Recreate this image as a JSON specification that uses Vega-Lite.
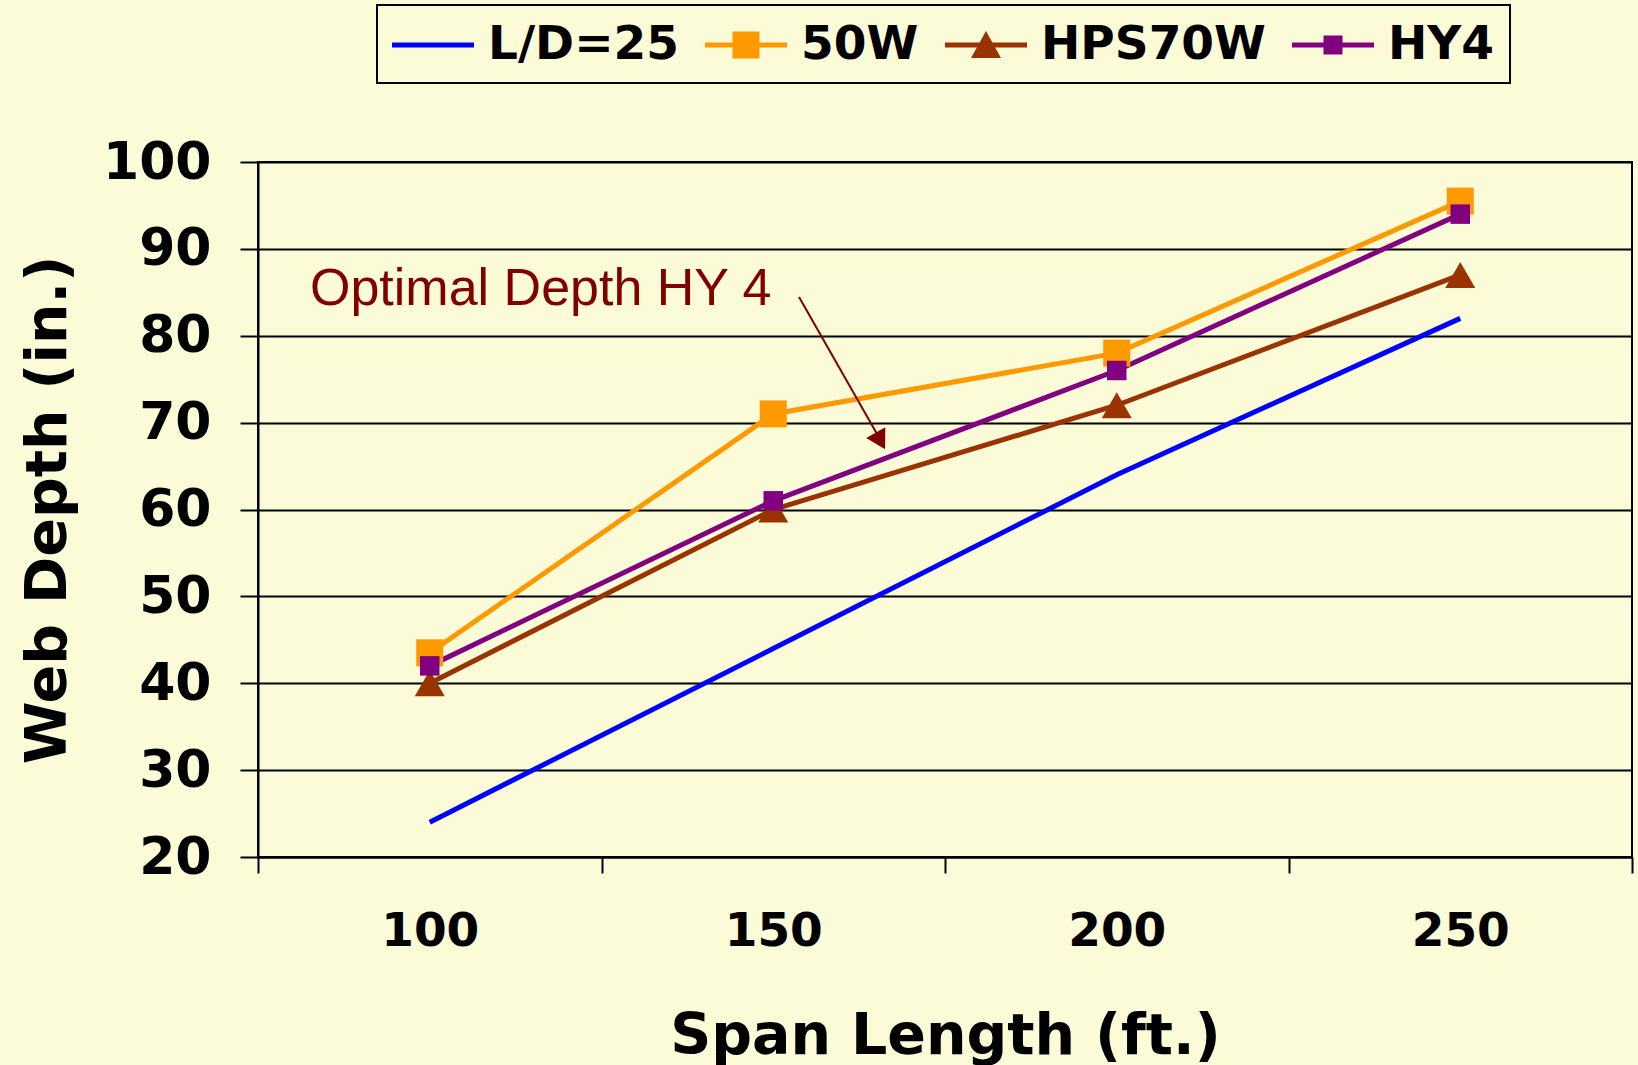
{
  "$schema": "https://vega.github.io/schema/vega-lite/v6.json",
  "width": 1374,
  "height": 695,
  "autosize": {"type": "none"},
  "padding": {"left": 258, "top": 162, "right": 6, "bottom": 208},
  "background": "#FBFBD8",
  "config": {"view": {"stroke": "black", "strokeWidth": 2}, "font": "DejaVu Sans"},
  "datasets": {
    "main": [
      {"series": "L/D=25", "span": 100, "depth": 24},
      {"series": "L/D=25", "span": 150, "depth": 44},
      {"series": "L/D=25", "span": 200, "depth": 64},
      {"series": "L/D=25", "span": 250, "depth": 82},
      {"series": "50W", "span": 100, "depth": 43.5},
      {"series": "50W", "span": 150, "depth": 71},
      {"series": "50W", "span": 200, "depth": 78},
      {"series": "50W", "span": 250, "depth": 95.5},
      {"series": "HPS70W", "span": 100, "depth": 40},
      {"series": "HPS70W", "span": 150, "depth": 60},
      {"series": "HPS70W", "span": 200, "depth": 72},
      {"series": "HPS70W", "span": 250, "depth": 87},
      {"series": "HY4", "span": 100, "depth": 42},
      {"series": "HY4", "span": 150, "depth": 61},
      {"series": "HY4", "span": 200, "depth": 76},
      {"series": "HY4", "span": 250, "depth": 94}
    ]
  },
  "encoding": {
    "x": {
      "field": "span", "type": "quantitative",
      "scale": {"domain": [75, 275], "nice": false, "zero": false},
      "axis": {
        "title": "Span Length (ft.)",
        "values": [75, 100, 125, 150, 175, 200, 225, 250, 275],
        "labelExpr": "datum.value % 50 == 0 ? datum.label : ''",
        "tickOpacity": {"condition": {"test": "datum.value % 50 == 0", "value": 0}, "value": 1},
        "tickSize": 16, "tickWidth": 2, "tickColor": "black",
        "domainColor": "black", "domainWidth": 2, "grid": false,
        "labelFont": "DejaVu Sans", "labelFontWeight": "bold", "labelFontSize": 47, "labelColor": "black",
        "labelPadding": 35, "labelOverlap": false, "labelFlush": false,
        "titleFont": "DejaVu Sans", "titleFontWeight": "bold", "titleFontSize": 57, "titleColor": "black",
        "titleX": 687, "titleY": 196, "titleBaseline": "alphabetic", "titleAlign": "center"
      }
    },
    "y": {
      "field": "depth", "type": "quantitative",
      "scale": {"domain": [20, 100], "nice": false, "zero": false},
      "axis": {
        "title": "Web Depth (in.)",
        "values": [20, 30, 40, 50, 60, 70, 80, 90, 100],
        "grid": true, "gridColor": "black", "gridWidth": 2.2, "gridOpacity": 1,
        "tickSize": 18, "tickWidth": 2, "tickColor": "black",
        "domainColor": "black", "domainWidth": 2,
        "labelFont": "DejaVu Sans", "labelFontWeight": "bold", "labelFontSize": 52, "labelColor": "black",
        "labelPadding": 29, "labelOverlap": false, "labelFlush": false,
        "titleFont": "DejaVu Sans", "titleFontWeight": "bold", "titleFontSize": 57, "titleColor": "black",
        "titleAngle": -90, "titleX": -193, "titleY": 347.5, "titleBaseline": "alphabetic", "titleAlign": "center"
      }
    }
  },
  "layer": [
    {
      "data": {"name": "main"},
      "mark": {"type": "line", "strokeWidth": 5},
      "encoding": {
        "color": {
          "field": "series", "type": "nominal",
          "scale": {"domain": ["L/D=25", "50W", "HPS70W", "HY4"], "range": ["#0000FF", "#FF9900", "#993300", "#800080"]},
          "legend": {
            "orient": "none", "legendX": 119, "legendY": -157,
            "direction": "horizontal", "columns": 4, "title": null,
            "padding": 15, "strokeColor": "black", "fillColor": "#FBFBD8",
            "labelFont": "DejaVu Sans", "labelFontWeight": "bold", "labelFontSize": 47, "labelColor": "black",
            "labelOffset": 46, "columnPadding": 26, "labelLimit": 0,
            "symbolSize": 2500, "symbolStrokeWidth": 0, "symbolOpacity": 1,
            "encode": {
              "legend": {"update": {"strokeWidth": {"value": 2}}},
              "symbols": {
                "update": {
                  "shape": {"signal": "datum.value === 'L/D=25' ? 'M-1,-0.1H2.28V0.1H-1Z' : datum.value === '50W' ? 'M-1,-0.1H2.28V0.1H-1Z M0.1,-0.54H1.18V0.54H0.1Z' : datum.value === 'HPS70W' ? 'M-1,-0.1H2.28V0.1H-1Z M0.64,-0.56L1.24,0.52H0.04Z' : 'M-1,-0.1H2.28V0.1H-1Z M0.26,-0.38H1.02V0.38H0.26Z'"},
                  "fill": {"scale": "color", "field": "value"},
                  "stroke": {"value": "transparent"},
                  "opacity": {"value": 1}
                }
              }
            }
          }
        }
      }
    },
    {
      "data": {"name": "main"},
      "transform": [{"filter": "datum.series === '50W'"}],
      "mark": {"type": "point", "shape": "square", "size": 730, "filled": true, "opacity": 1, "color": "#FF9900"}
    },
    {
      "data": {"name": "main"},
      "transform": [{"filter": "datum.series === 'HPS70W'"}],
      "mark": {"type": "point", "shape": "triangle-up", "size": 900, "filled": true, "opacity": 1, "color": "#993300"}
    },
    {
      "data": {"name": "main"},
      "transform": [{"filter": "datum.series === 'HY4'"}],
      "mark": {"type": "point", "shape": "square", "size": 380, "filled": true, "opacity": 1, "color": "#800080"}
    },
    {
      "data": {"values": [{"span": 82.57, "depth": 83.54, "label": "Optimal Depth HY 4"}]},
      "mark": {"type": "text", "align": "left", "baseline": "alphabetic", "font": "Liberation Sans", "fontSize": 52, "color": "#800000"},
      "encoding": {
        "text": {"field": "label"}
      }
    },
    {
      "data": {"values": [{"span": 153.75, "depth": 84.46, "span2": 165.4, "depth2": 68.3}]},
      "mark": {"type": "rule", "color": "#800000", "strokeWidth": 2},
      "encoding": {
        "x2": {"field": "span2"},
        "y2": {"field": "depth2"}
      }
    },
    {
      "data": {"values": [{"span": 165.6, "depth": 67.9}]},
      "mark": {"type": "point", "shape": "triangle-down", "angle": 330.5, "size": 480, "filled": true, "opacity": 1, "color": "#800000"}
    }
  ]
}
